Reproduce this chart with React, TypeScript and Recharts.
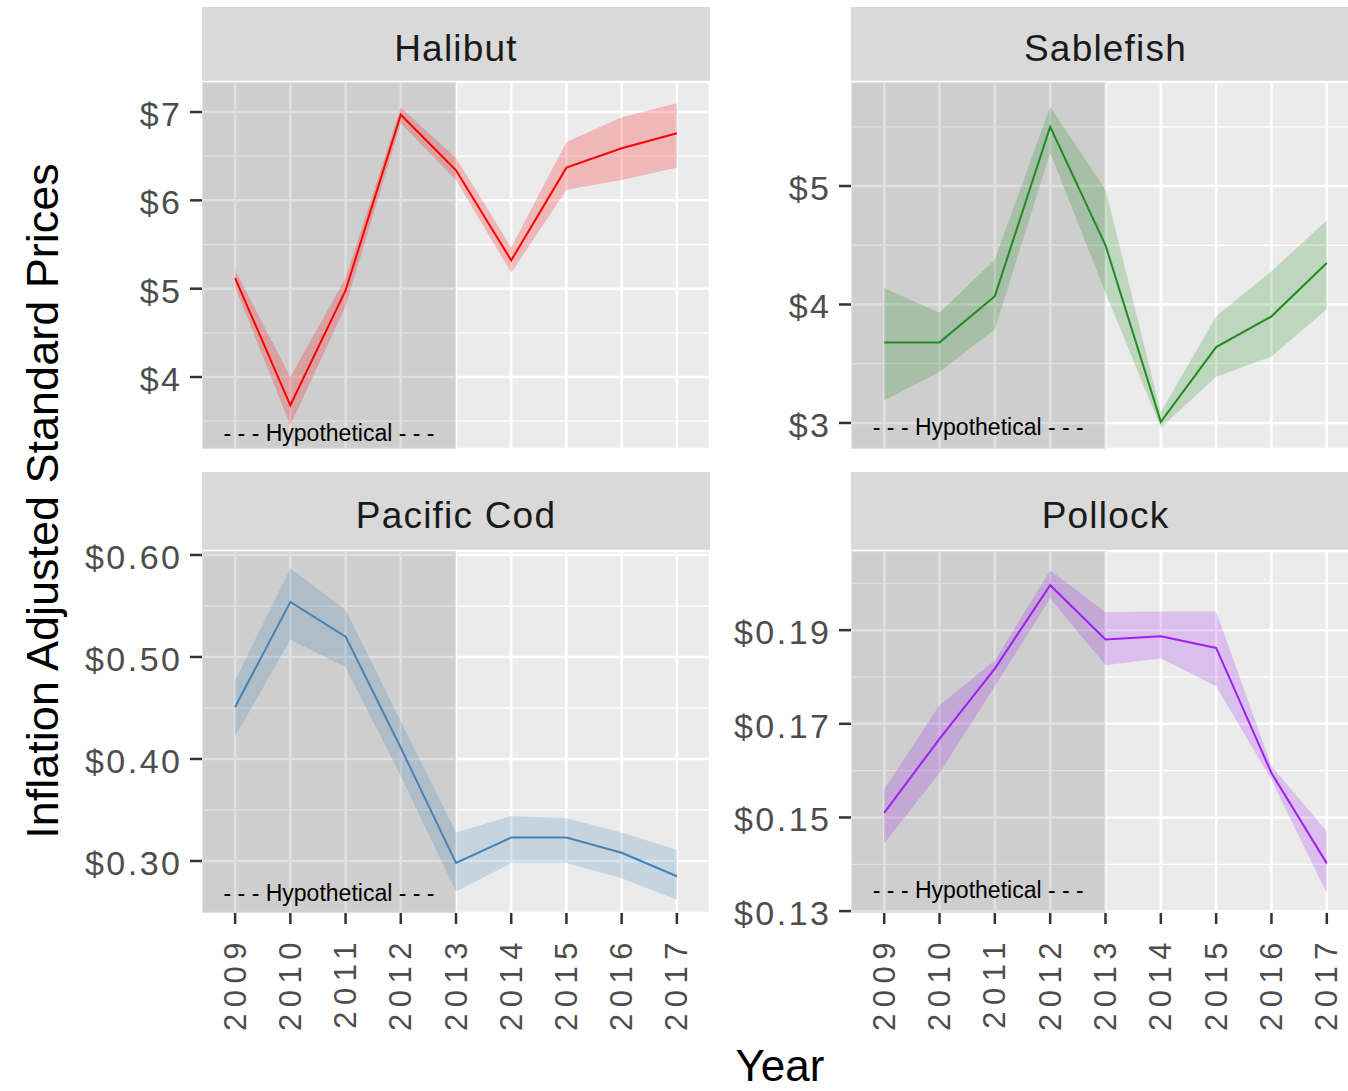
import React from "react";
import {
  ComposedChart,
  Line,
  Area,
  XAxis,
  YAxis,
  CartesianGrid,
  ReferenceArea,
  ReferenceLine,
} from "recharts";

// ---------- data ----------
const years = [2009, 2010, 2011, 2012, 2013, 2014, 2015, 2016, 2017];

const halibutPrice = [5.12, 3.68, 4.98, 6.97, 6.34, 5.32, 6.37, 6.59, 6.76];
const halibutLower = [5.02, 3.45, 4.8, 6.87, 6.23, 5.18, 6.12, 6.23, 6.37];
const halibutUpper = [5.21, 4.0, 5.12, 7.05, 6.48, 5.47, 6.66, 6.94, 7.1];
const halibutTicks = [4, 5, 6, 7];
const halibutMinor = [3.5, 4.5, 5.5, 6.5];
const halibutDomain = [3.185, 7.34];

const sablefishPrice = [3.68, 3.68, 4.07, 5.5, 4.5, 3.01, 3.64, 3.9, 4.35];
const sablefishLower = [3.19, 3.43, 3.79, 5.28, 4.1, 2.96, 3.39, 3.56, 3.96];
const sablefishUpper = [4.14, 3.93, 4.38, 5.67, 4.97, 3.09, 3.9, 4.28, 4.71];
const sablefishTicks = [3, 4, 5];
const sablefishMinor = [3.5, 4.5, 5.5];
const sablefishDomain = [2.78, 5.878];

const codPrice = [0.451, 0.554, 0.52, 0.411, 0.298, 0.323, 0.323, 0.308, 0.285];
const codLower = [0.422, 0.517, 0.49, 0.383, 0.27, 0.298, 0.298, 0.283, 0.262];
const codUpper = [0.477, 0.587, 0.546, 0.437, 0.328, 0.344, 0.342, 0.328, 0.311];
const codTicks = [0.3, 0.4, 0.5, 0.6];
const codMinor = [0.35, 0.45, 0.55];
const codDomain = [0.249, 0.6039];

const pollockPrice = [0.151, 0.1668, 0.1818, 0.1996, 0.188, 0.1887, 0.1862, 0.1595, 0.1402];
const pollockLower = [0.1445, 0.1595, 0.178, 0.1968, 0.1825, 0.184, 0.178, 0.158, 0.1338];
const pollockUpper = [0.156, 0.174, 0.1835, 0.2028, 0.1938, 0.194, 0.194, 0.161, 0.147];
const pollockTicks = [0.13, 0.15, 0.17, 0.19];
const pollockMinor = [0.14, 0.16, 0.18, 0.2];
const pollockDomain = [0.1296, 0.2069];

const panelTitles = ["Halibut", "Sablefish", "Pacific Cod", "Pollock"];
const panelColors = ["#ff0000", "#228b22", "#4682b4", "#a020f0"];
const hypotheticalLabel = "- - - Hypothetical - - -";
const hypotheticalY = [3.366, 2.966, 0.2686, 0.1345];
const shadeStart = 2008.4;
const shadeEnd = 2013;
const xDomain = [2008.4, 2017.6];
const xAxisTitle = "Year";
const yAxisTitle = "Inflation Adjusted Standard Prices";

const FONT = "'Liberation Sans', Arial, sans-serif";

const build = (p: number[], lo: number[], hi: number[]) =>
  years.map((year, i) => ({ year, price: p[i], band: [lo[i], hi[i]] }));

const fmtDollar = (v: number) => `$${v}`;
const fmtCents = (v: number) => `$${v.toFixed(2)}`;

type Layout = {
  plotLeft: number;
  plotRight: number;
  chartLeft: number;
  stripTop: number;
  plotTop: number;
  plotBottom: number;
  showX: boolean;
};

type FacetProps = {
  title: string;
  color: string;
  data: any[];
  domain: number[];
  ticks: number[];
  minor: number[];
  fmt: (v: number) => string;
  labelY: number;
  layout: Layout;
};

const X_AXIS_H = 140;
const TOP_PAD = 30;

function Facet({ title, color, data, domain, ticks, minor, fmt, labelY, layout }: FacetProps) {
  const { plotLeft, plotRight, chartLeft, stripTop, plotTop, plotBottom, showX } = layout;
  const yAxisW = plotLeft - chartLeft;
  const width = plotRight - chartLeft;
  const height = plotBottom - plotTop + TOP_PAD + (showX ? X_AXIS_H : 0);

  const YTick = (props: any) => (
    <text
      x={props.x + 2.5}
      y={props.y + 2}
      textAnchor="end"
      dominantBaseline="central"
      fontSize={34}
      letterSpacing={2.5}
      fill="#4d4d4d"
      fontFamily={FONT}
    >
      {fmt(props.payload.value)}
    </text>
  );

  const XTick = (props: any) => (
    <text
      x={props.x}
      y={props.y}
      transform={`rotate(-90 ${props.x} ${props.y})`}
      textAnchor="end"
      dominantBaseline="central"
      fontSize={31}
      letterSpacing={6.5}
      fill="#4d4d4d"
      fontFamily={FONT}
    >
      {props.payload.value}
    </text>
  );

  return (
    <>
      <div
        style={{
          position: "absolute",
          left: plotLeft,
          top: stripTop,
          width: plotRight - plotLeft,
          height: plotTop - stripTop,
          background: "#d9d9d9",
          display: "flex",
          alignItems: "center",
          justifyContent: "center",
          boxSizing: "border-box",
          paddingTop: 8,
          fontSize: 37,
          letterSpacing: 1.2,
          color: "#1a1a1a",
          fontFamily: FONT,
        }}
      >
        {title}
      </div>
      <div style={{ position: "absolute", left: chartLeft, top: plotTop - TOP_PAD }}>
        <ComposedChart
          width={width}
          height={height}
          data={data}
          margin={{ top: TOP_PAD, right: 0, bottom: 0, left: 0 }}
        >
          <CartesianGrid fill="#ebebeb" stroke="#ffffff" strokeWidth={2.5} />
          <XAxis
            dataKey="year"
            type="number"
            domain={xDomain}
            ticks={years}
            interval={0}
            allowDataOverflow
            hide={!showX}
            height={X_AXIS_H}
            axisLine={false}
            tickSize={11}
            tickMargin={12}
            tickLine={{ stroke: "#333333", strokeWidth: 2.5 }}
            tick={XTick}
          />
          <YAxis
            type="number"
            domain={domain}
            ticks={ticks}
            interval={0}
            allowDataOverflow
            width={yAxisW}
            axisLine={false}
            tickSize={12}
            tickMargin={10}
            tickLine={{ stroke: "#333333", strokeWidth: 2.5 }}
            tick={YTick}
          />
          {minor.map((m) => (
            <ReferenceLine
              key={`m${m}`}
              y={m}
              stroke="#ffffff"
              strokeWidth={1.3}
              zIndex={-90}
            />
          ))}
          <ReferenceArea
            x1={shadeStart}
            x2={shadeEnd}
            fill="#000000"
            fillOpacity={0.12}
            stroke="none"
            zIndex={-80}
          />
          <Area
            dataKey="band"
            type="linear"
            stroke="none"
            fill={color}
            fillOpacity={0.22}
            dot={false}
            activeDot={false}
            isAnimationActive={false}
          />
          <Line
            dataKey="price"
            type="linear"
            stroke={color}
            strokeWidth={2}
            dot={false}
            activeDot={false}
            isAnimationActive={false}
          />
          <ReferenceLine
            segment={[
              { x: shadeStart, y: labelY },
              { x: shadeEnd, y: labelY },
            ]}
            stroke="none"
            label={{
              value: hypotheticalLabel,
              position: "center",
              fill: "#000000",
              fontSize: 23,
              fontFamily: FONT,
            }}
          />
        </ComposedChart>
      </div>
    </>
  );
}

const leftCol = { plotLeft: 202, plotRight: 710, chartLeft: 0 };
const rightCol = { plotLeft: 851, plotRight: 1360, chartLeft: 720 };
const topRow = { stripTop: 7, plotTop: 82, plotBottom: 449, showX: false };
const bottomRow = { stripTop: 472, plotTop: 551, plotBottom: 913, showX: true };

export default function App() {
  return (
    <div
      style={{
        position: "absolute",
        left: 0,
        top: 0,
        width: 1348,
        height: 1091,
        overflow: "hidden",
        background: "#ffffff",
        fontFamily: FONT,
      }}
    >
      <Facet
        title={panelTitles[0]}
        color={panelColors[0]}
        data={build(halibutPrice, halibutLower, halibutUpper)}
        domain={halibutDomain}
        ticks={halibutTicks}
        minor={halibutMinor}
        fmt={fmtDollar}
        labelY={hypotheticalY[0]}
        layout={{ ...leftCol, ...topRow }}
      />
      <Facet
        title={panelTitles[1]}
        color={panelColors[1]}
        data={build(sablefishPrice, sablefishLower, sablefishUpper)}
        domain={sablefishDomain}
        ticks={sablefishTicks}
        minor={sablefishMinor}
        fmt={fmtDollar}
        labelY={hypotheticalY[1]}
        layout={{ ...rightCol, ...topRow }}
      />
      <Facet
        title={panelTitles[2]}
        color={panelColors[2]}
        data={build(codPrice, codLower, codUpper)}
        domain={codDomain}
        ticks={codTicks}
        minor={codMinor}
        fmt={fmtCents}
        labelY={hypotheticalY[2]}
        layout={{ ...leftCol, ...bottomRow }}
      />
      <Facet
        title={panelTitles[3]}
        color={panelColors[3]}
        data={build(pollockPrice, pollockLower, pollockUpper)}
        domain={pollockDomain}
        ticks={pollockTicks}
        minor={pollockMinor}
        fmt={fmtCents}
        labelY={hypotheticalY[3]}
        layout={{ ...rightCol, ...bottomRow }}
      />
      <svg
        width={1348}
        height={1091}
        style={{ position: "absolute", left: 0, top: 0, pointerEvents: "none" }}
      >
        <text
          x={780}
          y={1081}
          textAnchor="middle"
          fontSize={44}
          fill="#000000"
          fontFamily={FONT}
        >
          {xAxisTitle}
        </text>
        <text
          x={58}
          y={501}
          transform="rotate(-90 58 501)"
          textAnchor="middle"
          fontSize={45}
          fill="#000000"
          fontFamily={FONT}
        >
          {yAxisTitle}
        </text>
      </svg>
    </div>
  );
}
